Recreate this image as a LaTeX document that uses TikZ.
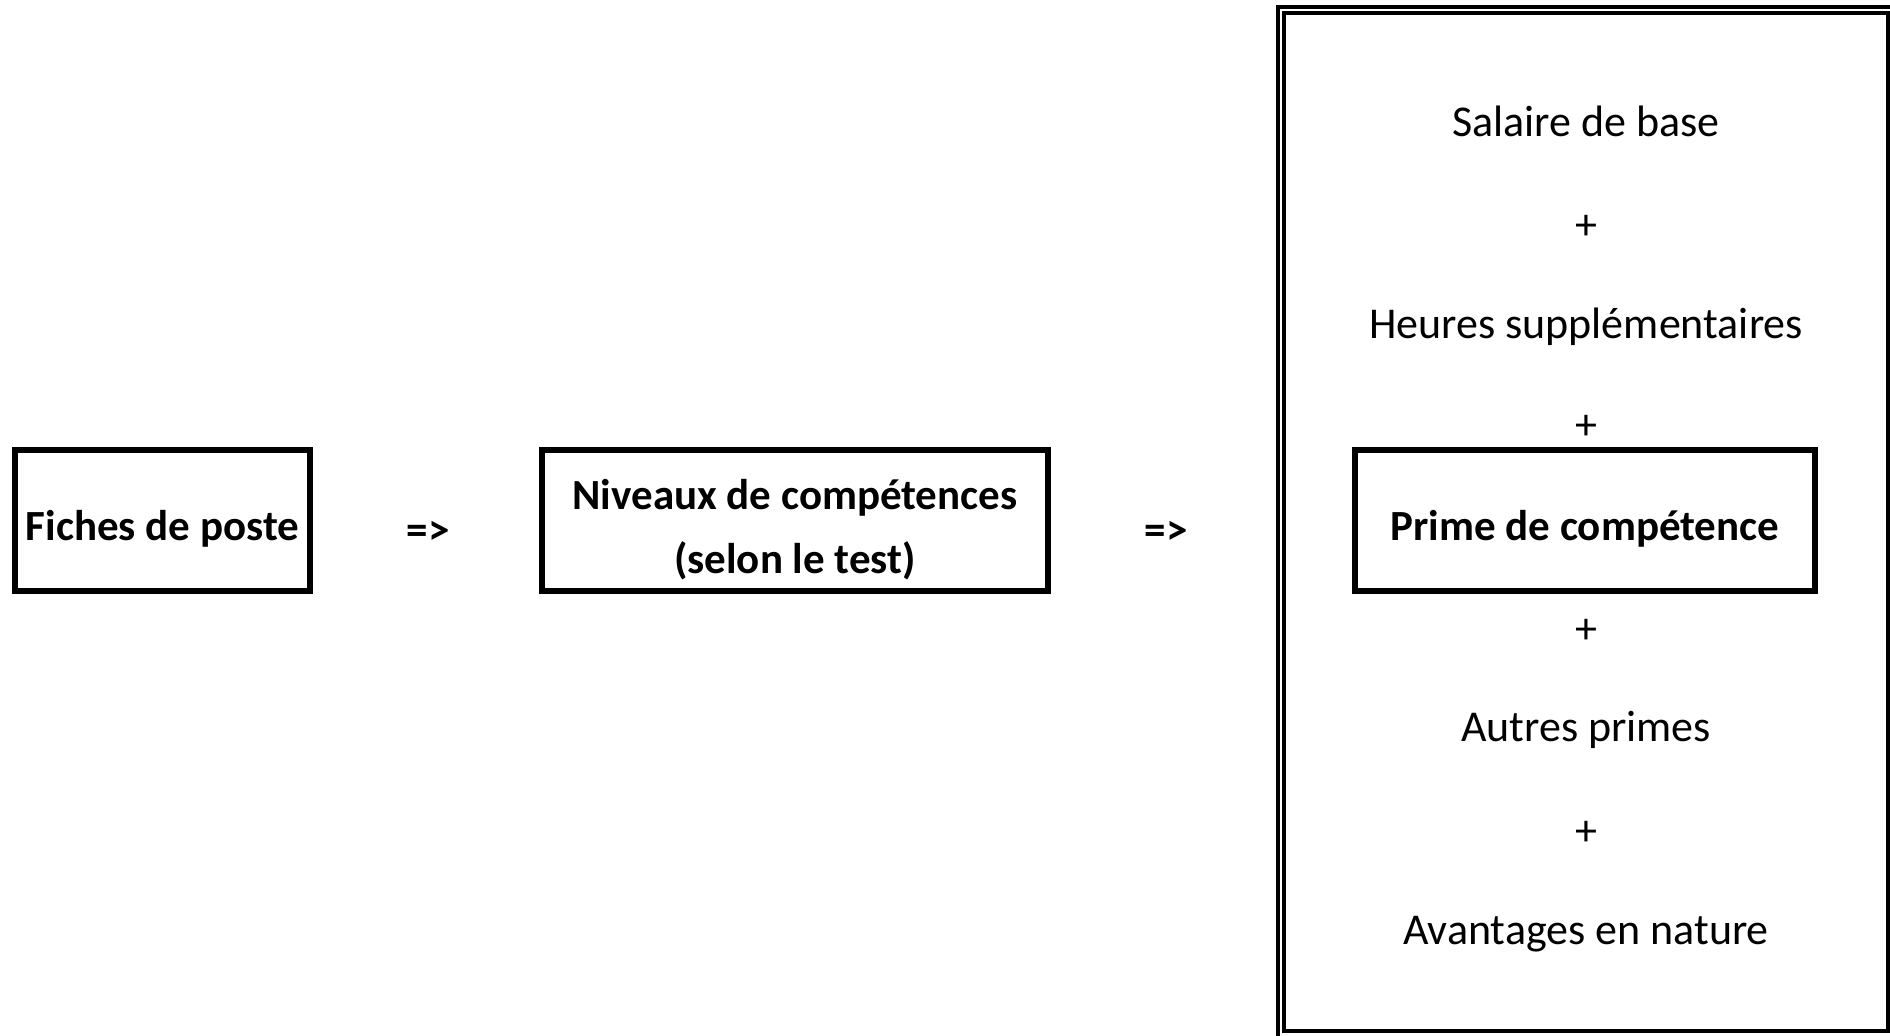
\documentclass[tikz,border=0pt]{standalone}
\usepackage{fontspec}
\setmainfont{Carlito}
\usetikzlibrary{calc}
\begin{document}
\begin{tikzpicture}[x=0.5pt,y=-0.5pt,
  txt/.style={font=\fontsize{22}{32}\selectfont, inner sep=0pt, align=center},
  btxt/.style={font=\fontsize{21.5}{32}\selectfont\bfseries, inner sep=0pt, align=center},
  boxed/.style={draw=black, line width=3pt, minimum height=70.5pt, inner sep=0pt}]
\useasboundingbox (0,0) rectangle (1890,1035);
\fill[white] (0,0) rectangle (1890,1035);
% double frame
\draw[line width=2pt] (1278,7) rectangle (1896,1040);
\draw[line width=1.75pt] (1284,13) rectangle (1888,1031);
% left chain
\node[boxed, minimum width=147.5pt] (fiches) at (162.5,520.5) {};
\node[btxt] (fichesT) at ($(fiches.center)+(0,8)$) {Fiches de poste};
\node[btxt] (arr1) at (428,533) {=>};
\node[boxed, minimum width=253pt] (niveaux) at (795,520.5) {};
\node[btxt] (niveauxT) at ($(niveaux.center)+(0,9)$) {Niveaux de compétences\\(selon le test)};
\node[btxt] (arr2) at (1166,533) {=>};
% right column
\node[txt] (salaire) at (1586,121) {Salaire de base};
\node[txt] (p1) at (1586,227) {+};
\node[txt] (heures) at (1586,327) {Heures supplémentaires};
\node[txt] (p2) at (1586,427) {+};
\node[boxed, minimum width=230pt] (prime) at (1585,520.5) {};
\node[btxt] (primeT) at ($(prime.center)+(0,8)$) {Prime de compétence};
\node[txt] (p3) at (1586,631) {+};
\node[txt] (autres) at (1586,730) {Autres primes};
\node[txt] (p4) at (1586,833) {+};
\node[txt] (avantages) at (1586,934) {Avantages en nature};
\end{tikzpicture}
\end{document}
